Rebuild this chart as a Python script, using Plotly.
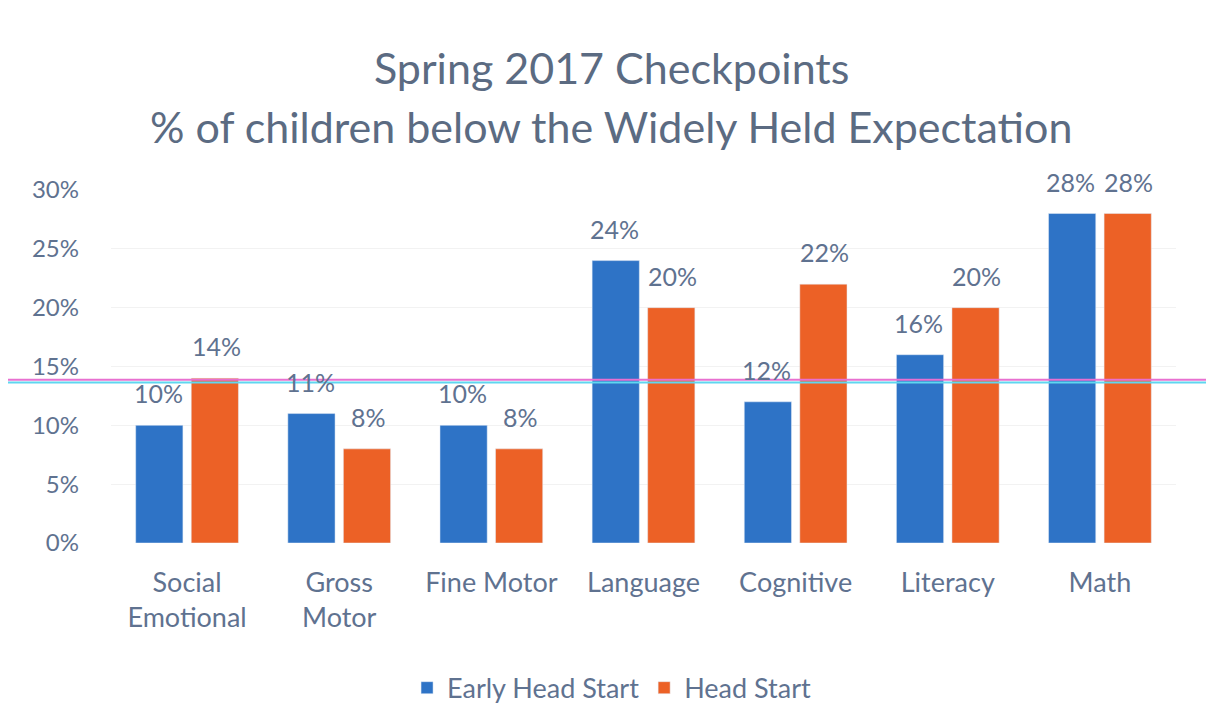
import plotly.graph_objects as go

categories = ["Social<br>Emotional", "Gross<br>Motor", "Fine Motor", "Language", "Cognitive", "Literacy", "Math"]
early_head_start = [10, 11, 10, 24, 12, 16, 28]
head_start = [14, 8, 8, 20, 22, 20, 28]
y_ticks = [0, 5, 10, 15, 20, 25, 30]
y_tick_labels = ["0%", "5%", "10%", "15%", "20%", "25%", "30%"]
ref_line = 13.75

FONT = "Lato, 'Open Sans', sans-serif"
TXT = "#5f7290"

fig = go.Figure()
fig.add_trace(go.Bar(
    x=categories, y=early_head_start, name="Early Head Start",
    marker_color="#2e73c6", cliponaxis=False,
))
fig.add_trace(go.Bar(
    x=categories, y=head_start, name="Head Start",
    marker_color="#ec6126", cliponaxis=False,
))

# value labels placed above each bar
for c, v in zip(categories, early_head_start):
    fig.add_annotation(x=c, y=v, text=f"{v}%", xshift=-29, yshift=32, showarrow=False,
                       font=dict(size=25, color=TXT, family=FONT))
for c, v in zip(categories, head_start):
    fig.add_annotation(x=c, y=v, text=f"{v}%", xshift=29, yshift=32, showarrow=False,
                       font=dict(size=25, color=TXT, family=FONT))

fig.add_shape(type="line", xref="paper", x0=-0.2, x1=1.1, yref="y", y0=ref_line + 0.12, y1=ref_line + 0.12,
              line=dict(color="#e870d0", width=2))
fig.add_shape(type="line", xref="paper", x0=-0.2, x1=1.1, yref="y", y0=ref_line - 0.12, y1=ref_line - 0.12,
              line=dict(color="#5fd6f0", width=2))

fig.add_annotation(text="Spring 2017 Checkpoints", xref="paper", yref="paper", x=0.4695, y=1.0,
                   yshift=150, showarrow=False, font=dict(size=43, color="#5b6b82", family=FONT))
fig.add_annotation(text="% of children below the Widely Held Expectation", xref="paper", yref="paper",
                   x=0.4695, y=1.0, yshift=91, showarrow=False, font=dict(size=43, color="#5b6b82", family=FONT))

fig.update_layout(
    width=1206, height=699,
    margin=dict(l=103, r=38, t=182, b=164),
    plot_bgcolor="white", paper_bgcolor="white",
    barmode="group", bargap=0.27, bargroupgap=0.15,
    font=dict(family=FONT, color=TXT),
    showlegend=True,
    legend=dict(orientation="h", x=0.47, xanchor="center", yref="container", y=0.027, yanchor="middle",
                font=dict(size=27, color=TXT, family=FONT)),
)
fig.update_yaxes(range=[0, 30], tickvals=y_ticks, ticktext=y_tick_labels,
                 showgrid=True, gridcolor="#f2f2f2", zeroline=False, automargin=False,
                 tickfont=dict(size=24, color=TXT, family=FONT), ticklabelstandoff=31)
fig.update_xaxes(tickfont=dict(size=27, color=TXT, family=FONT), showline=False, automargin=False,
                 ticklabelstandoff=21)

fig.write_html("out.html")
